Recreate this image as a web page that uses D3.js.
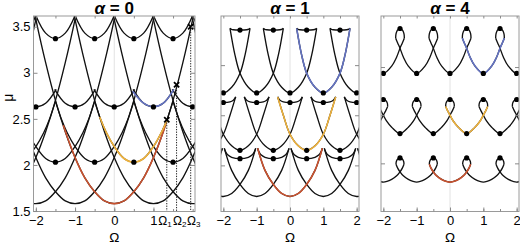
<!DOCTYPE html>
<html><head><meta charset="utf-8">
<script src="https://cdn.jsdelivr.net/npm/d3@7"></script>
<style>body{margin:0;background:#fff}svg{display:block;font-family:"Liberation Sans",Arial,sans-serif}</style>
</head><body><svg id="c" width="520" height="244"></svg>
<script>
// ---------- data ----------
const omegaTicks = [-2, -1, 0, 1, 2];
const omegaMinor = [-2, -1.5, -1, -0.5, 0, 0.5, 1, 1.5, 2];
const muTicksA0 = [1.5, 2, 2.5, 3, 3.5];
const muTicksA1 = [2.5, 3, 3.5];
const muTicksA4 = [3.5, 4, 4.5];
const intCenters = [-4, -3, -2, -1, 0, 1, 2, 3, 4];
const halfCenters = [-3.5, -2.5, -1.5, -0.5, 0.5, 1.5, 2.5, 3.5];
const dotInt = [-2, -1, 0, 1, 2];
const dotHalf = [-1.5, -0.5, 0.5, 1.5];

// alpha = 0 : branch shapes [offset from centre, mu]
const a0FamA = [[-2.6,4.96],[-2.25,4.11],[-2,3.58],[-1.75,3.11],[-1.5,2.70],[-1.25,2.36],[-1,2.08],[-0.75,1.86],[-0.5,1.71],[-0.25,1.61],[0,1.58],[0.25,1.61],[0.5,1.71],[0.75,1.86],[1,2.08],[1.25,2.36],[1.5,2.70],[1.75,3.11],[2,3.58],[2.25,4.11],[2.6,4.96]];
const a0FamB = [[-1,2.69],[-0.85,2.50],[-0.7,2.35],[-0.5,2.20],[-0.25,2.07],[0,2.03],[0.25,2.07],[0.5,2.20],[0.7,2.35],[0.85,2.50],[1,2.69]];
const a0FamC = [[-0.52,2.82],[-0.25,2.67],[0,2.63],[0.25,2.67],[0.52,2.82]];
const a0FamD = [[-0.5,3.62],[-0.25,3.43],[0,3.37],[0.25,3.43],[0.5,3.62]];
const a0Red = [[-1.3,2.43],[-1,2.08],[-0.75,1.86],[-0.5,1.71],[-0.25,1.61],[0,1.58],[0.25,1.61],[0.5,1.71],[0.75,1.86],[1,2.08],[1.25,2.36],[1.34,2.48]];
const a0Orange = [[-0.37,2.52],[-0.2,2.35],[0,2.20],[0.25,2.07],[0.5,2.03],[0.75,2.07],[1,2.20],[1.2,2.35],[1.34,2.48]];
const a0Blue = [[0.47,2.80],[0.75,2.67],[1,2.63],[1.25,2.67],[1.52,2.82]];
const crossOmega = [1.34, 1.59, 1.95];
const crossMu = [2.49, 2.87, 3.5];
const crossNames = ['1', '2', '3'];

// alpha = 1 : lower (swallowtail) branches and upper branches
const a1RedLower = [[-0.97,2.67],[-0.75,2.45],[-0.5,2.31],[-0.25,2.22],[0,2.19],[0.25,2.22],[0.5,2.31],[0.75,2.45],[0.97,2.67]];
const a1RedUpper = [[-0.47,2.67],[-0.43,2.635],[-0.37,2.605],[-0.25,2.58],[0,2.567],[0.25,2.58],[0.37,2.605],[0.43,2.635],[0.47,2.67]];
const a1OrangeLower = [[-0.87,3.183],[-0.7,3.0],[-0.5,2.81],[-0.25,2.695],[0,2.65],[0.25,2.695],[0.5,2.81],[0.7,3.0],[0.87,3.183]];
const a1OrangeUpper = [[-0.37,3.183],[-0.34,3.165],[-0.3,3.15],[-0.2,3.133],[0,3.127],[0.2,3.133],[0.3,3.15],[0.34,3.165],[0.37,3.183]];
const a1BlueLower = [[-0.8,3.867],[-0.65,3.60],[-0.5,3.42],[-0.25,3.28],[0,3.223],[0.25,3.28],[0.5,3.42],[0.65,3.60],[0.8,3.867]];
const a1BlueUpper = [[-0.3,3.867],[-0.27,3.86],[-0.2,3.853],[0,3.85],[0.2,3.853],[0.27,3.86],[0.3,3.867]];

// alpha = 4 : lower branches and loop caps
const a4RedLower = [[-0.62,3.49],[-0.57,3.45],[-0.5,3.411],[-0.4,3.37],[-0.25,3.333],[0,3.305],[0.25,3.333],[0.4,3.37],[0.5,3.411],[0.57,3.45],[0.62,3.49]];
const a4RedUpper = [[-0.12,3.49],[-0.11,3.52],[-0.07,3.545],[-0.035,3.553],[0,3.556],[0.035,3.553],[0.07,3.545],[0.11,3.52],[0.12,3.49]];
const a4OrangeLower = [[-0.63,4.09],[-0.57,4.045],[-0.5,4.0],[-0.4,3.9375],[-0.25,3.875],[0,3.809],[0.25,3.875],[0.4,3.9375],[0.5,4.0],[0.57,4.045],[0.63,4.09]];
const a4OrangeUpper = [[-0.13,4.09],[-0.12,4.125],[-0.08,4.15],[-0.04,4.16],[0,4.163],[0.04,4.16],[0.08,4.15],[0.12,4.125],[0.13,4.09]];
const a4BlueLower = [[-0.63,4.80],[-0.57,4.75],[-0.5,4.695],[-0.4,4.604],[-0.25,4.51],[0,4.434],[0.25,4.51],[0.4,4.604],[0.5,4.695],[0.57,4.75],[0.63,4.80]];
const a4BlueUpper = [[-0.13,4.80],[-0.12,4.845],[-0.08,4.88],[-0.04,4.895],[0,4.90],[0.04,4.895],[0.08,4.88],[0.12,4.845],[0.13,4.80]];

// ---------- drawing ----------
const RED = '#c9522f', ORANGE = '#eeb23c', BLUE = '#6473c2';
const TOP = 16, BOT = 211.5;
const FONT = '"Liberation Sans",Arial,sans-serif';
const svg = d3.select('#c');
const mid = s => s.find(d => d[0] === 0)[1];
const fmt = d3.format('');

const panels = [
  {key:'0', x0:33.5, x1:195, xdom:[-2.06,2.06], ydom:[1.495,3.616], yticks:muTicksA0, ylabels:true,
   xlabels:[-2,-1,0,1],
   families:[{s:a0FamA,c:intCenters},{s:a0FamB,c:halfCenters},{s:a0FamC,c:intCenters},{s:a0FamD,c:halfCenters}],
   colored:[{pts:a0Red,col:RED},{pts:a0Orange,col:ORANGE},{pts:a0Blue,col:BLUE}],
   dots:[{s:a0FamB,c:dotHalf},{s:a0FamC,c:dotInt},{s:a0FamD,c:dotHalf}]},
  {key:'1', x0:221, x1:359, xdom:[-2.07,2.07], ydom:[2.04,3.99], yticks:muTicksA1, ylabels:false, xlabels:omegaTicks,
   families:[{s:a1RedLower,c:intCenters},{s:a1RedUpper,c:halfCenters},{s:a1OrangeLower,c:halfCenters},{s:a1OrangeUpper,c:intCenters},{s:a1BlueLower,c:intCenters},{s:a1BlueUpper,c:halfCenters}],
   colored:[{s:a1RedLower,c:0,col:RED},{s:a1OrangeLower,c:0.5,col:ORANGE},{s:a1BlueLower,c:1,col:BLUE}],
   dots:[{s:a1RedUpper,c:dotHalf},{s:a1OrangeLower,c:dotHalf},{s:a1OrangeUpper,c:dotInt},{s:a1BlueLower,c:dotInt},{s:a1BlueUpper,c:dotHalf}]},
  {key:'4', x0:381, x1:519, xdom:[-2.07,2.07], ydom:[3.0,5.03], yticks:muTicksA4, ylabels:false, xlabels:omegaTicks,
   families:[{s:a4RedLower,c:intCenters},{s:a4RedUpper,c:halfCenters},{s:a4OrangeLower,c:halfCenters},{s:a4OrangeUpper,c:intCenters},{s:a4BlueLower,c:intCenters},{s:a4BlueUpper,c:halfCenters}],
   colored:[{s:a4RedLower,c:0,col:RED},{s:a4OrangeLower,c:0.5,col:ORANGE},{s:a4BlueLower,c:1,col:BLUE}],
   dots:[{s:a4RedUpper,c:dotHalf},{s:a4OrangeLower,c:dotHalf},{s:a4OrangeUpper,c:dotInt},{s:a4BlueLower,c:dotInt},{s:a4BlueUpper,c:dotHalf}]}
];

function styleAxis(g) {
  g.select('.domain').remove();
  g.selectAll('line').attr('stroke', '#8a8a8a');
  g.selectAll('text').attr('font-size', 13).attr('fill', '#000').attr('font-family', FONT);
  g.attr('font-family', null).attr('font-size', null);
}

panels.forEach(p => {
  const xs = d3.scaleLinear().domain(p.xdom).range([p.x0, p.x1]);
  const ys = d3.scaleLinear().domain(p.ydom).range([BOT, TOP]);
  const line = d3.line().x(d => xs(d[0])).y(d => ys(d[1])).curve(d3.curveCatmullRom.alpha(0.5));
  const id = 'clip' + p.key;
  svg.append('clipPath').attr('id', id).append('rect')
    .attr('x', p.x0).attr('y', TOP).attr('width', p.x1 - p.x0).attr('height', BOT - TOP);
  const g = svg.append('g');
  const plot = g.append('g').attr('clip-path', `url(#${id})`);
  plot.append('line').attr('x1', xs(0)).attr('x2', xs(0)).attr('y1', TOP).attr('y2', BOT)
    .attr('stroke', '#e2e2e2').attr('stroke-width', 1);

  p.families.forEach(f => f.c.forEach(c => {
    plot.append('path').attr('d', line(f.s.map(([d, m]) => [c + d, m])))
      .attr('fill', 'none').attr('stroke', '#111').attr('stroke-width', 1.35);
  }));
  p.colored.forEach(k => {
    const pts = k.pts ? k.pts : k.s.map(([d, m]) => [k.c + d, m]);
    plot.append('path').attr('d', line(pts)).attr('fill', 'none')
      .attr('stroke', k.col).attr('stroke-width', 1.6);
  });
  if (p.key === '0') {
    crossOmega.forEach((o, i) => {
      const x = xs(o), y = ys(crossMu[i]);
      plot.append('line').attr('x1', x).attr('x2', x).attr('y1', y).attr('y2', BOT)
        .attr('stroke', '#222').attr('stroke-width', 1).attr('stroke-dasharray', '1.3,1.3');
      plot.append('path').attr('d', `M${x-2.6},${y-2.6}L${x+2.6},${y+2.6}M${x-2.6},${y+2.6}L${x+2.6},${y-2.6}`)
        .attr('stroke', '#000').attr('stroke-width', 1.8);
    });
  }
  p.dots.forEach(dd => dd.c.forEach(c => {
    plot.append('circle').attr('cx', xs(c)).attr('cy', ys(mid(dd.s))).attr('r', 2.6).attr('fill', '#000');
  }));

  // frame
  g.append('rect').attr('x', p.x0).attr('y', TOP).attr('width', p.x1 - p.x0).attr('height', BOT - TOP)
    .attr('fill', 'none').attr('stroke', '#9a9a9a').attr('stroke-width', 1);

  // axes
  const bx = g.append('g').attr('transform', `translate(0,${BOT})`)
    .call(d3.axisBottom(xs).tickValues(p.xlabels).tickSize(-4).tickPadding(4).tickFormat(fmt));
  styleAxis(bx);
  const bxm = g.append('g').attr('transform', `translate(0,${BOT})`)
    .call(d3.axisBottom(xs).tickValues(omegaMinor).tickSize(-2.5).tickFormat(''));
  styleAxis(bxm);
  const tx = g.append('g').attr('transform', `translate(0,${TOP})`)
    .call(d3.axisTop(xs).tickValues(omegaMinor).tickSize(-2.5).tickFormat(''));
  styleAxis(tx);
  const ly = g.append('g').attr('transform', `translate(${p.x0},0)`)
    .call(d3.axisLeft(ys).tickValues(p.yticks).tickSize(-4).tickPadding(3)
      .tickFormat(p.ylabels ? fmt : ''));
  styleAxis(ly);
  const ry = g.append('g').attr('transform', `translate(${p.x1},0)`)
    .call(d3.axisRight(ys).tickValues(p.yticks).tickSize(-4).tickFormat(''));
  styleAxis(ry);

  // title
  const cx = (p.x0 + p.x1) / 2;
  const t = g.append('text').attr('x', cx).attr('y', 13.5).attr('text-anchor', 'middle')
    .attr('font-size', 17).attr('font-weight', 'bold');
  t.append('tspan').attr('font-style', 'italic').text('α');
  t.append('tspan').text(' = ' + p.key);
  g.append('text').attr('x', xs(0)).attr('y', 241.5).attr('text-anchor', 'middle')
    .attr('font-size', 13.5).text('Ω');

  if (p.key === '0') {
    const offs = [-8.5, -3.6, -3.6];
    crossOmega.forEach((o, i) => {
      const tt = g.append('text').attr('x', xs(o) + offs[i]).attr('y', 224.5)
        .attr('text-anchor', 'start').attr('font-size', 12).text('Ω');
      tt.append('tspan').attr('font-size', 8).attr('dy', 2.5).text(crossNames[i]);
    });
    g.append('text').attr('transform', `translate(13,${ys(2.73)}) rotate(-90)`)
      .attr('text-anchor', 'middle').attr('font-size', 14).text('μ');
  }
});
</script></body></html>
